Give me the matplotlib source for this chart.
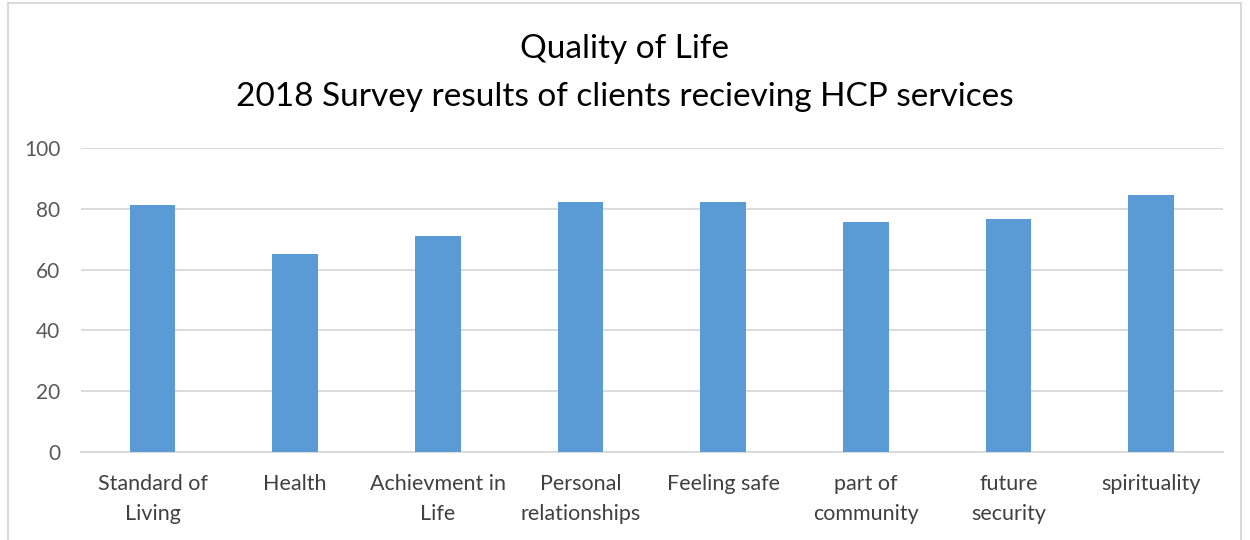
import matplotlib.pyplot as plt
from matplotlib.patches import Rectangle

categories = ["Standard of\nLiving", "Health", "Achievment in\nLife", "Personal\nrelationships",
              "Feeling safe", "part of\ncommunity", "future\nsecurity", "spirituality"]
values = [81.2, 65.1, 71.1, 82.2, 82.2, 75.5, 76.7, 84.4]
yticks = [0, 20, 40, 60, 80, 100]

plt.rcParams['font.family'] = ['Lato', 'DejaVu Sans']

fig = plt.figure(figsize=(12.5, 5.4), dpi=100)
ax = fig.add_axes([0.065, 0.163, 0.913, 0.563])

x = range(len(categories))
ax.bar(x, values, width=0.32, color='#5b9bd5', zorder=3)

ax.set_xlim(-0.5, len(categories) - 0.5)
ax.set_ylim(0, 100)
ax.set_yticks(yticks)
ax.set_xticks(list(x))
ax.set_xticklabels(categories, fontsize=15.5, color='#404040', linespacing=1.6)
ax.tick_params(axis='y', labelsize=15, labelcolor='#595959', length=0, pad=15)
ax.tick_params(axis='x', length=0, pad=16)
ax.yaxis.grid(True, color='#d9d9d9', linewidth=1.3, zorder=0)
for s in ['top', 'right', 'left']:
    ax.spines[s].set_visible(False)
ax.spines['bottom'].set_color('#d9d9d9')
ax.spines['bottom'].set_linewidth(1.3)

fig.text(0.5, 0.909, "Quality of Life", ha='center', va='center', fontsize=24, color='#000000')
fig.text(0.5, 0.82, "2018 Survey results of clients recieving HCP services", ha='center', va='center',
         fontsize=24, color='#000000')

fig.patches.append(Rectangle((0.006, -0.01), 0.987, 1.004, transform=fig.transFigure,
                             fill=False, edgecolor='#d9d9d9', linewidth=1.5))

fig.savefig("out.png")
